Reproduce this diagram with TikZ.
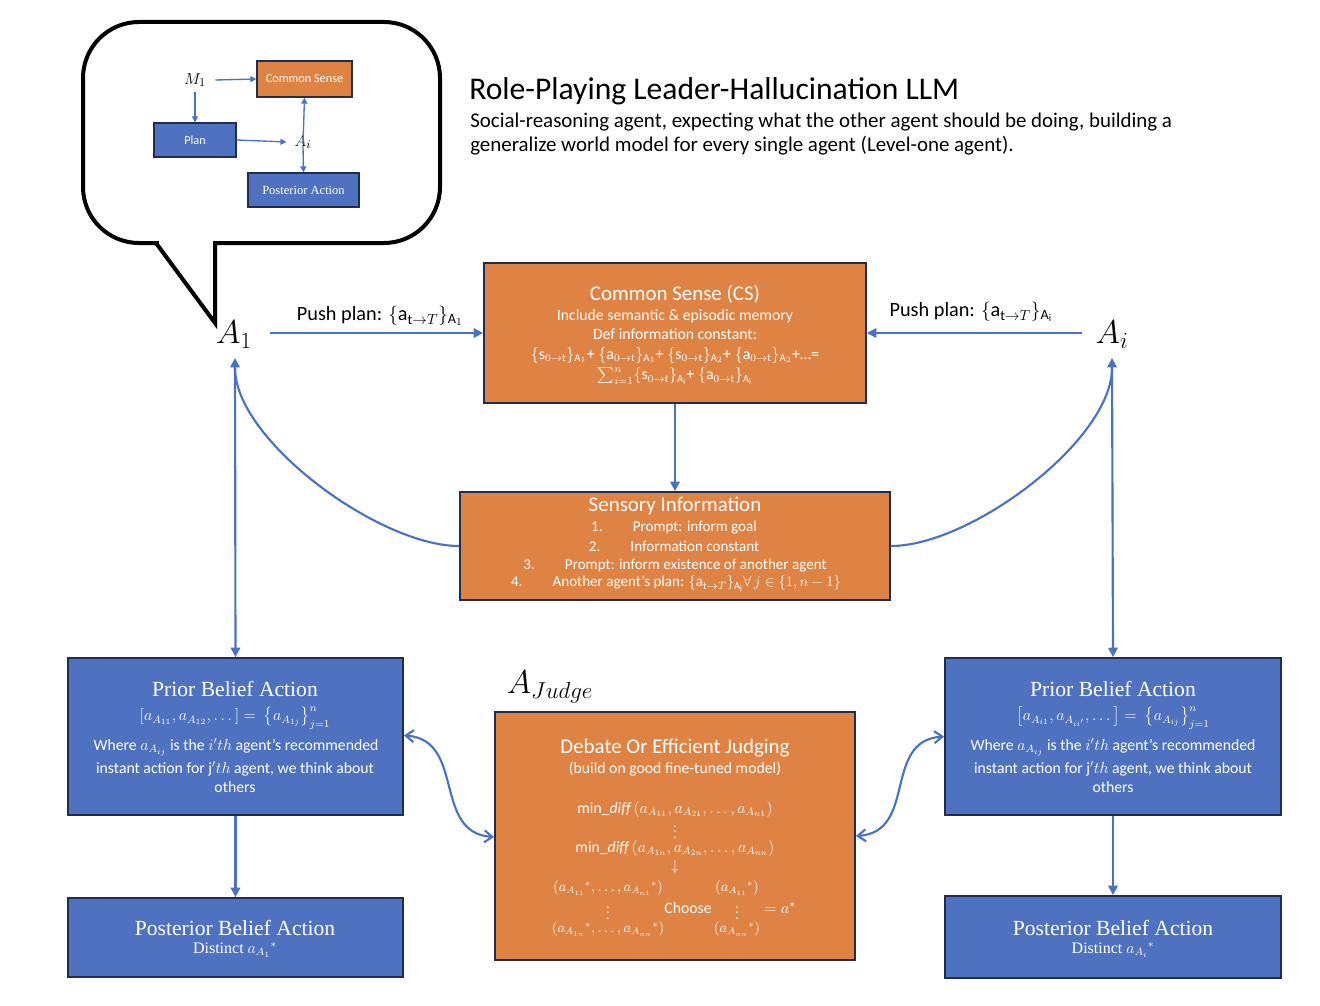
\documentclass[tikz,border=0pt]{standalone}
\usepackage{amsmath}
\usepackage{fontspec}
\setmainfont{Carlito}
\newfontfamily\camb{Liberation Serif}
\usetikzlibrary{arrows.meta}
\definecolor{orng}{RGB}{223,131,68}
\definecolor{bblue}{RGB}{79,114,192}
\definecolor{navy}{RGB}{32,45,78}
\definecolor{lblue}{RGB}{72,114,196}
\tikzset{
  ln/.style={draw=lblue, line width=1.6pt},
  thin ln/.style={draw=lblue, line width=1pt},
  tipend/.style={-{Triangle[length=7pt,width=7pt]}},
  tipboth/.style={{Triangle[length=7pt,width=7pt]}-{Triangle[length=7pt,width=7pt]}},
  smalltip/.style={-{Triangle[length=4.5pt,width=4.5pt]}},
  barbboth/.style={{Straight Barb[length=6pt,width=9pt,line width=1.6pt]}-{Straight Barb[length=6pt,width=9pt,line width=1.6pt]}},
  obox/.style={draw=navy, line width=1.4pt, fill=orng, inner sep=0pt},
  bbox/.style={draw=navy, line width=1.4pt, fill=bblue, inner sep=0pt},
  wt/.style={text=white, inner sep=0pt, align=center},
  hd/.style={wt, font=\fontsize{15.7}{17}\selectfont},
  sb/.style={wt, font=\fontsize{11.8}{13}\selectfont},
  sbs/.style={wt, font=\fontsize{11.3}{13}\selectfont},
  sbm/.style={wt, font=\fontsize{10.5}{12}\selectfont},
  chd/.style={wt, font=\camb\fontsize{16.2}{18}\selectfont},
  csb/.style={wt, font=\camb\fontsize{12}{13}\selectfont},
  agent/.style={inner sep=0pt, font=\fontsize{24}{26}\selectfont},
  bubble/.style={draw=black, line width=3pt},
}
\begin{document}
\begin{tikzpicture}[x=0.75pt, y=-0.75pt]
\useasboundingbox (0,0) rectangle (1320,1006);

% ---------- speech bubble ----------
\draw[bubble, rounded corners=42pt] (83,22) rectangle (440,243);
\fill[white] (159,238) -- (213,238) -- (213,249) -- (159,249) -- cycle;
\draw[bubble, line join=miter] (156,243) -- (215,323) -- (215,241.5);

\node[obox, line width=1pt, minimum width=71.25pt, minimum height=27pt] (ics) at (304.5,79) {};
\node[wt, font=\fontsize{9.2}{10}\selectfont] (icst) at (ics.center) {Common Sense};
\node[bbox, line width=1pt, minimum width=61.5pt, minimum height=25.5pt] (iplan) at (195,140) {};
\node[wt, font=\fontsize{9.2}{10}\selectfont] (iplant) at (iplan.center) {Plan};
\node[bbox, line width=1pt, minimum width=83.25pt, minimum height=25.5pt] (ipost) at (303.5,190) {};
\node[wt, font=\camb\fontsize{9.4}{10}\selectfont] (ipostt) at (ipost.center) {Posterior Action};
\node[inner sep=0pt, font=\fontsize{12.5}{13}\selectfont] (m1) at (195,80) {$M_1$};
\node[inner sep=0pt, font=\fontsize{12.5}{13}\selectfont] (iai) at (303,142) {$A_i$};
\draw[thin ln, smalltip] (m1.east) ++(9,0) coordinate (m1e) -- (ics.west);
\draw[thin ln, smalltip] (m1.south) ++(0,5) coordinate (m1s) -- (iplan.north);
\draw[thin ln, smalltip] (iplan.east) -- ([xshift=-8*0.75pt]iai.west);
\draw[thin ln, smalltip] ([yshift=-9*0.75pt]iai.north) -- (ics.south);
\draw[thin ln, smalltip] ([yshift=3*0.75pt]iai.south) -- (ipost.north);

% ---------- title ----------
\node[anchor=west, inner sep=0pt, font=\fontsize{23.7}{25}\selectfont] (title) at (469,91) {Role-Playing Leader-Hallucination LLM};
\node[anchor=west, inner sep=0pt, font=\fontsize{15.7}{17}\selectfont] (sub1) at (470,122) {Social-reasoning agent, expecting what the other agent should be doing, building a};
\node[anchor=west, inner sep=0pt, font=\fontsize{15.7}{17}\selectfont] (sub2) at (470,146) {generalize world model for every single agent (Level-one agent).};

% ---------- agents ----------
\node[agent] (A1) at (234,335) {$A_1$};
\node[agent] (Ai) at (1112,335) {$A_i$};
\coordinate (a1b) at (235,358);
\coordinate (a1c) at (235,368);
\coordinate (aib) at (1112,358);
\coordinate (aic) at (1112,368);
\coordinate (p1) at (270,333);
\coordinate (pi) at (1082,333);

% ---------- common sense ----------
\node[obox, minimum width=286.5pt, minimum height=105pt] (cs) at (675,333) {};
\node[hd] (cs1) at (675,294) {Common Sense (CS)};
\node[sb] (cs2) at (675,316) {Include semantic \& episodic memory};
\node[sb] (cs3) at (675,334) {Def information constant:};
\node[wt, font=\fontsize{12}{13}\selectfont] (cs4) at (675,355) {$\{\mathrm{s}_{0\rightarrow\mathrm{t}}\}_{\mathrm{A}_1}$+ $\{\mathrm{a}_{0\rightarrow\mathrm{t}}\}_{\mathrm{A}_1}$+ $\{\mathrm{s}_{0\rightarrow\mathrm{t}}\}_{\mathrm{A}_2}$+ $\{\mathrm{a}_{0\rightarrow\mathrm{t}}\}_{\mathrm{A}_2}$+…=};
\node[wt, font=\fontsize{12}{13}\selectfont] (cs5) at (675,376) {$\sum_{i=1}^{n}\{\mathrm{s}_{0\rightarrow\mathrm{t}}\}_{\mathrm{A}_\mathrm{i}}$+ $\{\mathrm{a}_{0\rightarrow\mathrm{t}}\}_{\mathrm{A}_\mathrm{i}}$};

\node[inner sep=0pt, font=\fontsize{15.2}{16}\selectfont] (pl1) at (380,316) {Push plan: $\{\mathrm{a}_{\mathrm{t}\rightarrow T}\}_{\mathrm{A}_1}$};
\node[inner sep=0pt, font=\fontsize{15.2}{16}\selectfont] (pl2) at (971,312) {Push plan: $\{\mathrm{a}_{\mathrm{t}\rightarrow T}\}_{\mathrm{A}_\mathrm{i}}$};
\draw[ln, tipend] (p1) -- (cs.west);
\draw[ln, tipend] (pi) -- (cs.east);

% ---------- sensory ----------
\node[obox, minimum width=322.5pt, minimum height=81pt] (sens) at (675,546) {};
\node[hd] (se1) at (675,506) {Sensory Information};
\node[sbs] (se2) at (674,528) {1.\hspace{2em}Prompt: inform goal};
\node[sbs] (se3) at (674,546) {2.\hspace{2em}Information constant};
\node[sbs] (se4) at (675,566) {3.\hspace{2em}Prompt: inform existence of another agent};
\node[sbs] (se5) at (676,584) {4.\hspace{2em}Another agent’s plan: $\{\mathrm{a}_{\mathrm{t}\rightarrow T}\}_{\mathrm{A}_\mathrm{j}}\forall\, j\in\{1,n-1\}$};
\draw[ln, tipend] (cs.south) -- (sens.north);

\draw[ln] (sens.west) .. controls +(-80,0) and +(0,72) .. (a1c);
\draw[ln] (sens.east) .. controls +(80,0) and +(0,72) .. (aic);

% ---------- prior belief left ----------
\node[bbox, minimum width=251.25pt, minimum height=117.75pt] (pbl) at (235.5,736.5) {};
\node[chd] (pbl1) at (235,689) {Prior Belief Action};
\node[sb] (pbl2) at (235,718) {$\left[a_{A_{11}}, a_{A_{12}}, \dots\right] =\ \left\{a_{A_{1j}}\right\}_{j=1}^{n}$};
\node[sb] (pbl3) at (236,747) {Where $a_{A_{ij}}$ is the $i'th$ agent’s recommended};
\node[sb] (pbl4) at (235,769) {instant action for j$'th$ agent, we think about};
\node[sb] (pbl5) at (235,787) {others};

% ---------- prior belief right ----------
\node[bbox, minimum width=252pt, minimum height=117.75pt] (pbr) at (1113,736.5) {};
\node[chd] (pbr1) at (1113,689) {Prior Belief Action};
\node[sb] (pbr2) at (1113,718) {$\left[a_{A_{i1}}, a_{A_{ii'}}, \dots\right] =\ \left\{a_{A_{ij}}\right\}_{j=1}^{n}$};
\node[sb] (pbr3) at (1113,747) {Where $a_{A_{ij}}$ is the $i'th$ agent’s recommended};
\node[sb] (pbr4) at (1113,769) {instant action for j$'th$ agent, we think about};
\node[sb] (pbr5) at (1113,787) {others};

% ---------- posterior ----------
\node[bbox, minimum width=251.25pt, minimum height=59.25pt] (psl) at (235.5,937.5) {};
\node[chd] (psl1) at (235,928) {Posterior Belief Action};
\node[csb] (psl2) at (235,950) {Distinct $a_{A_1}{}^{*}$};
\node[bbox, minimum width=252pt, minimum height=61.5pt] (psr) at (1113,937) {};
\node[chd] (psr1) at (1113,928) {Posterior Belief Action};
\node[csb] (psr2) at (1113,950) {Distinct $a_{A_i}{}^{*}$};

% ---------- judge ----------
\node[agent] (aj) at (550,687) {$A_{Judge}$};
\node[obox, minimum width=270pt, minimum height=186pt] (jd) at (675,836) {};
\node[hd] (jd1) at (675,748) {Debate Or Efficient Judging};
\node[sb] (jd2) at (675,769) {(build on good fine-tuned model)};
\node[sb] (jd3) at (675,809) {$\mathrm{min}\_\mathit{diff}\left(a_{A_{11}}, a_{A_{21}}, \dots, a_{A_{n1}}\right)$};
\node[sbm] (jd4) at (675,828) {$\vdots$};
\node[sb] (jd5) at (675,848) {$\mathrm{min}\_\mathit{diff}\left(a_{A_{1n}}, a_{A_{2n}}, \dots, a_{A_{nn}}\right)$};
\node[sbm] (jd6) at (675,867) {$\downarrow$};
\node[sbm] (jl1) at (608,888) {$\left(a_{A_{11}}{}^{*}, \dots, a_{A_{n1}}{}^{*}\right)$};
\node[sbm] (jl2) at (608,909) {$\vdots$};
\node[sbm] (jl3) at (608,929) {$\left(a_{A_{1n}}{}^{*}, \dots, a_{A_{nn}}{}^{*}\right)$};
\node[sb] (jch) at (688,908) {Choose};
\node[sbm] (jr1) at (737,888) {$\left(a_{A_{11}}{}^{*}\right)$};
\node[sbm] (jr2) at (737,909) {$\vdots$};
\node[sbm] (jr3) at (737,929) {$\left(a_{A_{nn}}{}^{*}\right)$};
\node[sb] (jeq) at (780,908) {$=a^{*}$};

% ---------- connectors ----------
\draw[ln, tipboth] (a1b) -- (pbl.north);
\draw[ln, tipboth] (aib) -- (pbr.north);
\draw[ln, tipend] (pbl.south) -- (psl.north);
\draw[ln, tipend] (pbr.south) -- (psr.north);
\draw[ln, barbboth] ([yshift=1*0.75pt]pbl.east) .. controls +(62,4) and +(-62,-4) .. ([yshift=-1*0.75pt]jd.west);
\draw[ln, barbboth] (jd.east) .. controls +(62,-4) and +(-62,4) .. (pbr.west);
\end{tikzpicture}
\end{document}
